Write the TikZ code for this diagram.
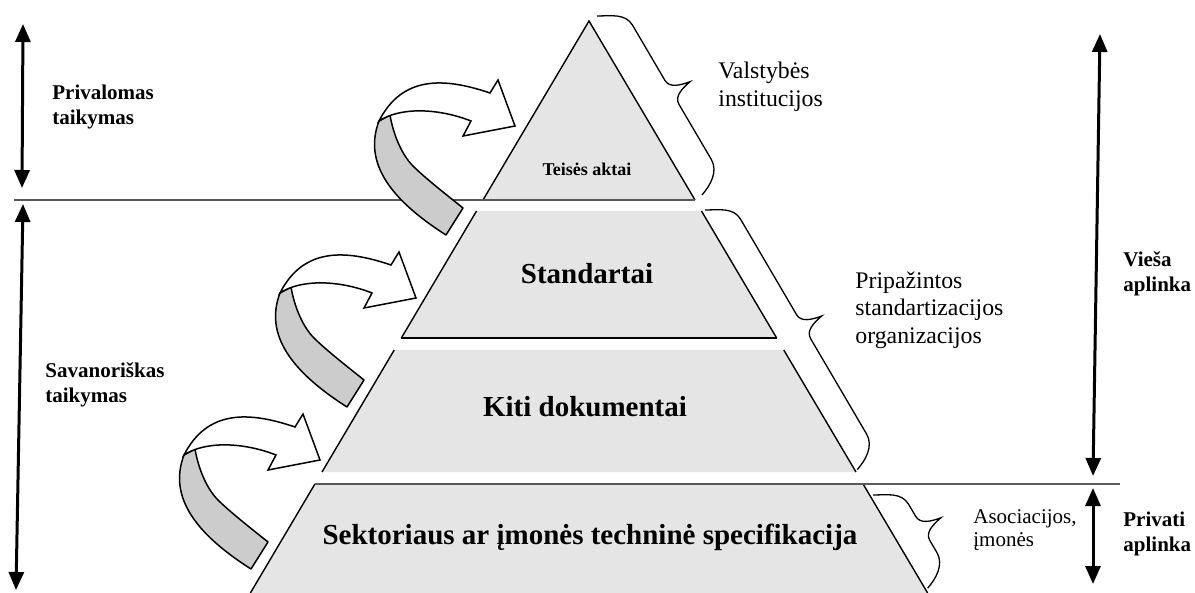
\documentclass[tikz,border=0pt]{standalone}
\usepackage{fontspec}
\setmainfont{Liberation Serif}
\usetikzlibrary{arrows.meta}

\newcommand{\turnarrow}[2]{%
	\begin{scope}[shift = {(#1,#2)}]
		\filldraw[arrow back] (0,0) -- (-17,27) .. controls (-72,-8) and (-100,-45) .. (-84,-87)
			-- (-73,-93) .. controls (-70,-75) and (-62,-54) .. (-50,-42) .. controls (-38,-30) and (-15,-12) .. cycle;
		\filldraw[arrow front] (-84,-87) .. controls (-61,-132) and (-20,-131) .. (27,-115) -- (35,-128) -- (52,-82)
			-- (0,-72) -- (8,-87) .. controls (-25,-100) and (-63,-101) .. cycle;
	\end{scope}}
\newcommand{\sidebrace}[3]{%
	\draw[brace line, shift = {(#1,#2)}, rotate = -59.6, yscale = -1] (0,0) .. controls (7,12) and (12,26) .. (26,26)
		-- ({#3/2-14},26) .. controls ({#3/2-5},26) and ({#3/2-2},36) .. ({#3/2},47)
		.. controls ({#3/2+2},36) and ({#3/2+5},26) .. ({#3/2+14},26)
		-- ({#3-26},26) .. controls ({#3-12},26) and ({#3-4},12) .. (#3,0);}

\begin{document}
\begin{tikzpicture}[x = 0.5pt, y = -0.5pt, every node/.style = {inner sep = 0pt},
	layer/.style = {fill = gray!20},
	edge line/.style = {draw = black, line width = 0.7pt},
	rule line/.style = {draw = black!65, line width = 0.7pt},
	arrow back/.style = {fill = gray!40, draw = black, line width = 0.75pt, line join = round},
	arrow front/.style = {fill = white, draw = black, line width = 0.75pt},
	brace line/.style = {draw = black, line width = 0.65pt},
	span arrow/.style = {line width = 1.5pt, {Triangle[length = 9pt, width = 7.5pt]}-{Triangle[length = 9pt, width = 7.5pt]}},
	level/.style = {font = \fontsize{14.5pt}{16pt}\selectfont\bfseries},
	side/.style = {align = left, anchor = west, font = \fontsize{10.5pt}{12.5pt}\selectfont\bfseries},
	group/.style = {align = left, anchor = west, font = \fontsize{11.9pt}{13.75pt}\selectfont}]

	\useasboundingbox (0,0) rectangle (1195,593);

	% pyramid
	\fill[layer] (589,21) -- (483,200) -- (695,200) -- cycle;
	\draw[edge line] (483,200) -- (589,21) -- (695,200);
	\foreach \ya/\yb in {211/338, 350/472, 484/593} {
		\fill[layer] ({589-0.592*(\ya-21)},\ya) -- ({589+0.592*(\ya-21)},\ya) -- ({589+0.592*(\yb-21)},\yb) -- ({589-0.592*(\yb-21)},\yb) -- cycle;
		\draw[edge line] ({589-0.592*(\ya-21)},\ya) -- ({589-0.592*(\yb-21)},\yb);
		\draw[edge line] ({589+0.592*(\ya-21)},\ya) -- ({589+0.592*(\yb-21)},\yb);
	}
	\draw[edge line] (401.3,338) -- (776.7,338);

	\draw[rule line] (14,200) -- (695,200);
	\draw[rule line] (315,484) -- (1120,484);

	\foreach \tx/\ty in {463/208, 364/380, 268/542}
		\turnarrow{\tx}{\ty};

	\foreach \bx/\by/\blen in {597/16/207.5, 705/210/301, 873/495/108}
		\sidebrace{\bx}{\by}{\blen};

	\coordinate (pv1) at (23,24);
	\coordinate (pv2) at (22,188);
	\coordinate (sv1) at (23,204);
	\coordinate (sv2) at (16,590);
	\coordinate (vs1) at (1100,34);
	\coordinate (vs2) at (1093,476);
	\coordinate (pr1) at (1093,488);
	\coordinate (pr2) at (1093,584);
	\foreach \from/\to in {pv1/pv2, sv1/sv2, vs1/vs2, pr1/pr2}
		\draw[span arrow] (\from) -- (\to);

	\node (teises)       at (587,169) [font = \fontsize{9pt}{10pt}\selectfont\bfseries] {Teisės aktai};
	\node (standartai)   at (587,274) [level] {Standartai};
	\node (kiti)         at (585,407) [level] {Kiti dokumentai};
	\node (sektorius)    at (590,537) [level] {Sektoriaus ar įmonės techninė specifikacija};
	\node (privalomas)   at (52,107)  [side] {Privalomas\\taikymas};
	\node (savanoriskas) at (45,385)  [side] {Savanoriškas\\taikymas};
	\node (viesa)        at (1123,274) [side] {Vieša\\aplinka};
	\node (privati)      at (1123,534) [side] {Privati\\aplinka};
	\node (valstybe)     at (718,87)  [group] {Valstybės\\institucijos};
	\node (pripazintos)  at (855,310) [group] {Pripažintos\\standartizacijos\\organizacijos};
	\node (asociacijos)  at (973,530) [group, font = \fontsize{10.5pt}{11.5pt}\selectfont] {Asociacijos,\\įmonės};

\end{tikzpicture}
\end{document}
